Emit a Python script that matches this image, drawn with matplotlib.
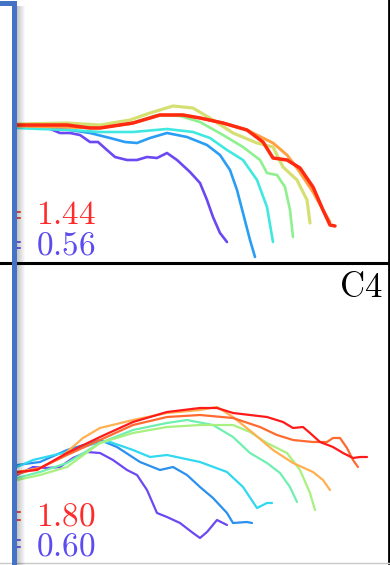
import matplotlib
matplotlib.use('Agg')
import matplotlib.pyplot as plt
from matplotlib.patches import Rectangle

plt.rcParams['mathtext.fontset'] = 'cm'

W, H = 390, 565

# ---- top panel (pixel-like units) ----
top_x = {
    'purple': [17, 30, 48, 60, 70, 80, 90, 98, 107, 115, 127, 137, 147, 157, 167, 177, 190, 200, 207, 213, 220, 227],
    'blue': [17, 50, 70, 90, 110, 125, 137, 150, 167, 187, 207, 220, 230, 237, 243, 250, 255],
    'cyan': [17, 40, 70, 100, 133, 167, 193, 210, 227, 243, 257, 267, 273],
    'green': [17, 60, 100, 130, 157, 180, 200, 223, 243, 260, 267, 277, 285, 290, 293],
    'yellow': [17, 67, 100, 130, 150, 173, 193, 213, 233, 257, 273, 283, 297, 307, 310],
    'orange': [17, 100, 133, 160, 183, 200, 223, 247, 263, 273, 287, 297, 305, 313, 323, 330],
    'red': [17, 40, 67, 90, 100, 133, 160, 183, 200, 223, 247, 263, 273, 287, 300, 313, 323, 330, 335],
}
top_y = {
    'purple': [125, 126, 128, 133, 133, 135, 142, 142, 150, 157, 160, 160, 157, 158, 153, 160, 172, 183, 200, 217, 233, 242],
    'blue': [127, 128, 130, 133, 138, 142, 143, 138, 133, 137, 145, 155, 170, 190, 213, 240, 257],
    'cyan': [128, 129, 130, 132, 132, 129, 132, 138, 150, 160, 180, 207, 242],
    'green': [126, 125, 127, 124, 115, 116, 122, 135, 147, 160, 173, 175, 187, 210, 237],
    'yellow': [124, 123, 125, 120, 113, 106, 108, 120, 133, 143, 147, 167, 180, 200, 223],
    'orange': [126, 128, 123, 115, 115, 118, 123, 130, 138, 143, 155, 168, 180, 192, 210, 222],
    'red': [125, 125, 125, 128, 128, 123, 115, 115, 118, 123, 130, 142, 158, 160, 168, 187, 210, 225, 226],
}
top_colors = {'purple': '#6b48f2', 'blue': '#2a9df4', 'cyan': '#40e8e0', 'green': '#8ef08e',
              'yellow': '#d6e072', 'orange': '#ffa040', 'red': '#ff2a10'}
top_lw = {'purple': 1.9, 'blue': 1.9, 'cyan': 1.9, 'green': 1.9, 'yellow': 2.3, 'orange': 2.1, 'red': 2.5}

# ---- bottom panel ----
bot_x = {
    'purple': [17, 33, 47, 60, 73, 87, 100, 113, 127, 137, 147, 157, 167, 180, 193, 200, 207, 217, 227],
    'blue': [17, 40, 67, 100, 117, 140, 160, 173, 187, 200, 213, 227, 233, 247, 252],
    'cyan': [17, 33, 67, 100, 110, 133, 150, 167, 200, 227, 243, 257, 267, 272],
    'mint': [17, 40, 67, 100, 133, 167, 187, 213, 233, 250, 267, 280, 290, 297],
    'lightgreen': [17, 40, 67, 100, 133, 167, 200, 233, 250, 267, 287, 300, 310, 315],
    'orange': [17, 40, 60, 83, 100, 133, 167, 200, 217, 233, 253, 273, 293, 313, 323, 330],
    'orangered': [17, 40, 67, 100, 133, 167, 200, 233, 260, 277, 293, 313, 327, 333, 340, 347, 353, 358],
    'red': [17, 37, 67, 100, 133, 167, 200, 217, 233, 267, 283, 293, 303, 310, 320, 333, 343, 353, 360, 367],
}
bot_y = {
    'purple': [475, 467, 468, 467, 458, 452, 453, 460, 470, 475, 490, 513, 517, 523, 533, 538, 532, 520, 525],
    'blue': [465, 462, 450, 440, 447, 462, 470, 467, 475, 487, 498, 513, 523, 522, 523],
    'cyan': [467, 460, 452, 442, 442, 450, 457, 455, 462, 472, 487, 508, 503, 503],
    'mint': [478, 472, 463, 443, 430, 423, 420, 425, 437, 453, 463, 473, 487, 502],
    'lightgreen': [480, 475, 467, 443, 433, 427, 425, 425, 432, 443, 453, 470, 493, 510],
    'orange': [472, 468, 458, 438, 428, 420, 413, 410, 407, 417, 433, 450, 463, 472, 480, 490],
    'orangered': [474, 468, 455, 440, 425, 417, 415, 418, 427, 435, 440, 442, 442, 438, 438, 448, 460, 467],
    'red': [472, 470, 453, 437, 422, 412, 408, 408, 413, 417, 422, 428, 427, 433, 442, 447, 453, 458, 457, 457],
}
bot_colors = {'purple': '#6b48f2', 'blue': '#2a90f0', 'cyan': '#30d8f0', 'mint': '#70f0b0',
              'lightgreen': '#a8f080', 'orange': '#ffb050', 'orangered': '#ff6a30', 'red': '#ff1a1a'}

top_labels = ['1.44', '0.56']
bot_labels = ['1.80', '0.60']
panel_name = 'C4'

fig = plt.figure(figsize=(W / 100, H / 100), dpi=100)

def add_panel(y0, y1):
    ax = fig.add_axes([0, 1 - y1 / H, 389 / W, (y1 - y0) / H])
    ax.set_xlim(0, 389)
    ax.set_ylim(y1, y0)
    ax.set_xticks([])
    ax.set_yticks([])
    ax.patch.set_alpha(0)
    for s in ax.spines.values():
        s.set_visible(False)
    return ax

ax1 = add_panel(0, 263)
for k in top_x:
    ax1.plot(top_x[k], top_y[k], color=top_colors[k], lw=top_lw[k], solid_capstyle='round')
ax1.spines['bottom'].set_visible(True)
ax1.spines['bottom'].set_linewidth(2.2)
ax1.spines['bottom'].set_zorder(5)
ax1.spines['right'].set_visible(True)
ax1.spines['right'].set_linewidth(2.0)
# legend handle stubs
for yy in (212, 218):
    ax1.plot([14, 20], [yy, yy], color='#ff2a2a', lw=1.2)
for yy in (242, 248):
    ax1.plot([14, 20], [yy, yy], color='#5b4bf0', lw=1.2)

ax2 = add_panel(263, 563)
for k in bot_x:
    ax2.plot(bot_x[k], bot_y[k], color=bot_colors[k], lw=1.6, solid_capstyle='round')
ax2.spines['right'].set_visible(True)
ax2.spines['right'].set_linewidth(2.0)
ax2.spines['bottom'].set_visible(True)
ax2.spines['bottom'].set_color('#c8c8c8')
ax2.spines['bottom'].set_linewidth(1.0)
for yy in (512, 520):
    ax2.plot([14, 20], [yy, yy], color='#ff2a2a', lw=1.2)
for yy in (540, 547):
    ax2.plot([14, 20], [yy, yy], color='#5b4bf0', lw=1.2)

def ftext(x, y, s, **kw):
    fig.text(x / W, 1 - y / H, s, **kw)

ftext(36, 224, '$' + top_labels[0] + '$', color='#ff2a2a', fontsize=24, va='baseline')
ftext(36, 254, '$' + top_labels[1] + '$', color='#5b4bf0', fontsize=24, va='baseline')
ftext(36, 525, '$' + bot_labels[0] + '$', color='#ff2a2a', fontsize=24, va='baseline')
ftext(36, 556, '$' + bot_labels[1] + '$', color='#5b4bf0', fontsize=24, va='baseline')
ftext(382, 297, r'$\mathrm{' + panel_name + '}$', color='black', fontsize=25, va='baseline', ha='right')

# blue frame of the slide, with a soft shadow
for i in range(8):
    fig.add_artist(Rectangle(((17 + i) / W, 0), 1 / W, 1 - 6 / H, transform=fig.transFigure,
                             color='black', alpha=0.22 * (1 - i / 8), lw=0, zorder=9))
fig.add_artist(Rectangle((12 / W, 0), 5 / W, 1 - 1 / H, transform=fig.transFigure,
                         color='#4472c4', lw=0, zorder=10))
fig.add_artist(Rectangle((0, 1 - 6 / H), 17 / W, 5 / H, transform=fig.transFigure,
                         color='#4472c4', lw=0, zorder=10))

fig.savefig('out.png', dpi=100)
